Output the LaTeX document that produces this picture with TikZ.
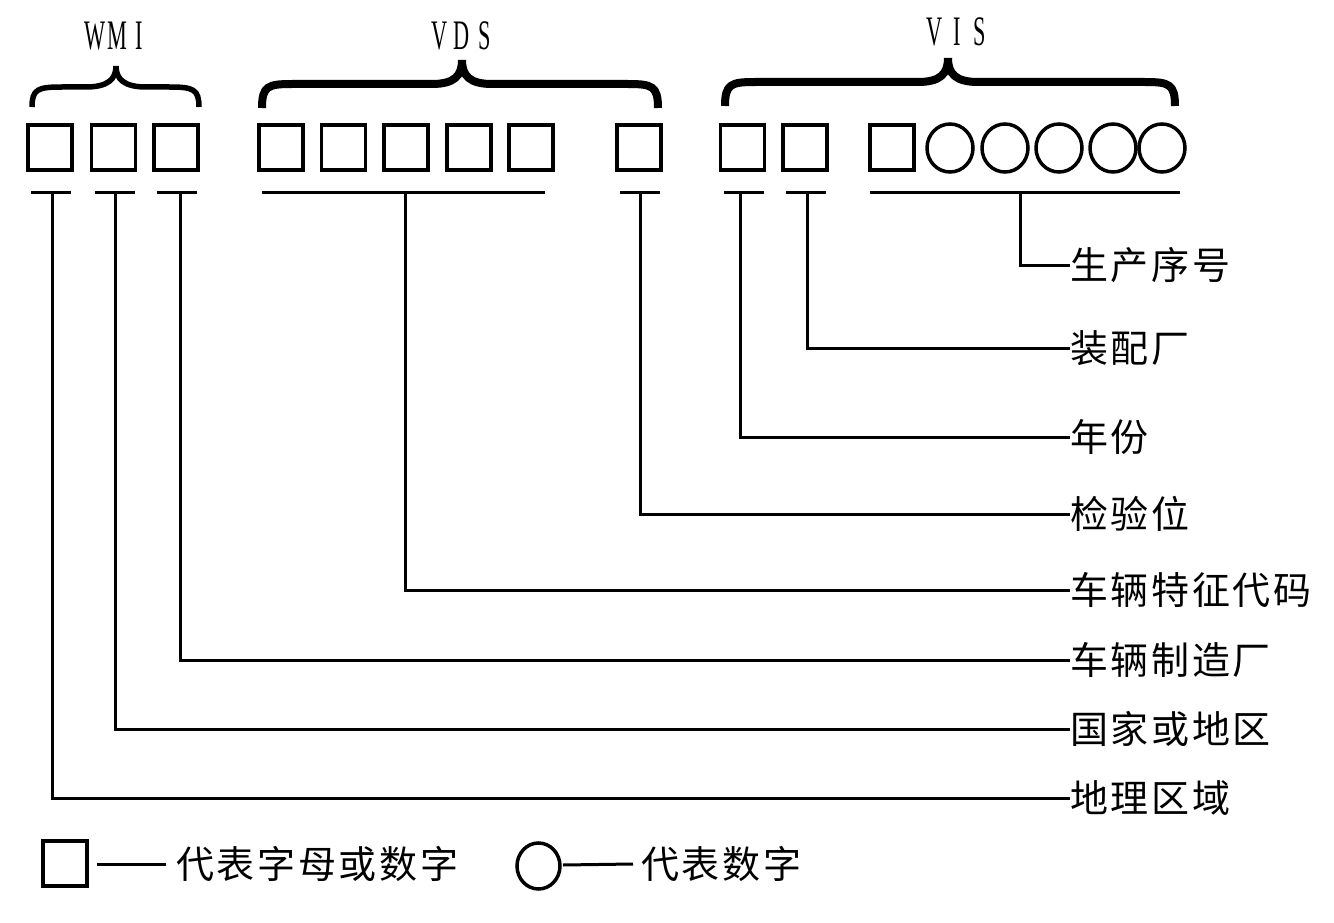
\documentclass[tikz,border=0pt]{standalone}
\usepackage{fontspec}
\usetikzlibrary{shapes.geometric,calc}
\newfontfamily\cjk[LetterSpace=7]{Noto Sans CJK SC}
\newfontfamily\latf{Liberation Serif}
\newcommand\ltr[3]{\scalebox{0.53}[1]{\latf\fontsize{42}{42}\selectfont\makebox[42pt]{#1}\makebox[42pt]{#2}\makebox[42pt]{#3}}}
\newcommand\brc[7]{%
 \draw[line width=#1] (#2,#5) .. controls (#2,{#6+2}) and ({#2+6},#6) .. ({#2+30},#6) -- ({#3-30},#6) .. controls ({#3-8},#6) and (#3,{#6-8}) .. (#3,#7);
 \draw[line width=#1] (#4,#5) .. controls (#4,{#6+2}) and ({#4-6},#6) .. ({#4-30},#6) -- ({#3+30},#6) .. controls ({#3+8},#6) and (#3,{#6-8}) .. (#3,#7);}
\newcommand\tick[1]{%
 \draw[conn] ($(#1.south west)+(3,23)$) -- ($(#1.south east)+(-1,23)$);}
\begin{document}
\begin{tikzpicture}[x=1pt,y=-1pt,
 sq/.style={draw,line width=3.5pt,minimum width=44pt,minimum height=45pt,inner sep=0pt,outer sep=0pt},
 ov/.style={draw,ellipse,line width=3.5pt,minimum width=46pt,minimum height=48pt,inner sep=0pt,outer sep=0pt},
 conn/.style={line width=3pt},
 lab/.style={anchor=west,inner sep=0pt,font=\cjk\fontsize{38}{38}\selectfont},
 grp/.style={inner sep=0pt},
]
\useasboundingbox (0,0) rectangle (1334,923);
% group labels
\node[grp] (wmi) at (117,36) {\ltr WMI};
\node[grp] (vds) at (462,36) {\ltr VDS};
\node[grp] (vis) at (957,32) {\ltr VIS};
% braces
\brc{5.5pt}{32}{116}{199}{107}{87}{66}
\brc{8pt}{262}{462}{658}{108}{84}{60}
\brc{8pt}{725}{948}{1175}{106}{82}{58}
% boxes
\foreach \n/\x in {b1/50,b2/113.5,b3/176,b4/281,b5/343.5,b6/406,b7/469,b8/531,b9/639,b10/742.5,b11/805,b12/892}
  \node[sq] (\n) at (\x,147.5) {};
\foreach \n/\x in {c1/950,c2/1005,c3/1059,c4/1113,c5/1162}
  \node[ov] (\n) at (\x,148) {};
% ticks
\tick{b1}
\tick{b2}
\tick{b3}
\draw[conn] ($(b4.south west)+(3,23)$) -- ($(b8.south east)+(-8,23)$);
\tick{b9}
\tick{b10}
\tick{b11}
\draw[conn] ($(b12.south west)+(0,23)$) -- ($(c5.east)+(-5,45)$);
\coordinate (t1) at ($(b1.south)+(2,23)$);
\coordinate (t2) at ($(b2.south)+(2,23)$);
\coordinate (t3) at ($(b3.south)+(4,23)$);
\coordinate (t4) at ($(b6.south)+(-1,23)$);
\coordinate (t5) at ($(b9.south)+(1,23)$);
\coordinate (t6) at ($(b10.south)+(-2,23)$);
\coordinate (t7) at ($(b11.south)+(2,23)$);
\coordinate (t8) at (1020,193);
% labels
\node[lab] (l1) at (1070,265) {生产序号};
\node[lab] (l2) at (1070,348) {装配厂};
\node[lab] (l3) at (1070,437) {年份};
\node[lab] (l4) at (1070,514) {检验位};
\node[lab] (l5) at (1070,590) {车辆特征代码};
\node[lab] (l6) at (1070,660) {车辆制造厂};
\node[lab] (l7) at (1070,729) {国家或地区};
\node[lab] (l8) at (1070,798) {地理区域};
% connectors
\draw[conn] (t8) |- (l1.west);
\draw[conn] (t7) |- (l2.west);
\draw[conn] (t6) |- (l3.west);
\draw[conn] (t5) |- (l4.west);
\draw[conn] (t4) |- (l5.west);
\draw[conn] (t3) |- (l6.west);
\draw[conn] (t2) |- (l7.west);
\draw[conn] (t1) |- (l8.west);
% legend
\node[sq,line width=4pt] (k1) at (64.5,863) {};
\node[lab] (k1t) at (176,864) {代表字母或数字};
\draw[conn] ($(k1.east)+(10,1)$) -- ($(k1t.west)+(-10,0)$);
\node[ov,minimum width=43pt,minimum height=46pt] (k2) at (538.5,866) {};
\node[lab] (k2t) at (641,864) {代表数字};
\draw[conn] ($(k2.east)+(3,-1)$) -- ($(k2t.west)+(-8,0)$);
\end{tikzpicture}
\end{document}
